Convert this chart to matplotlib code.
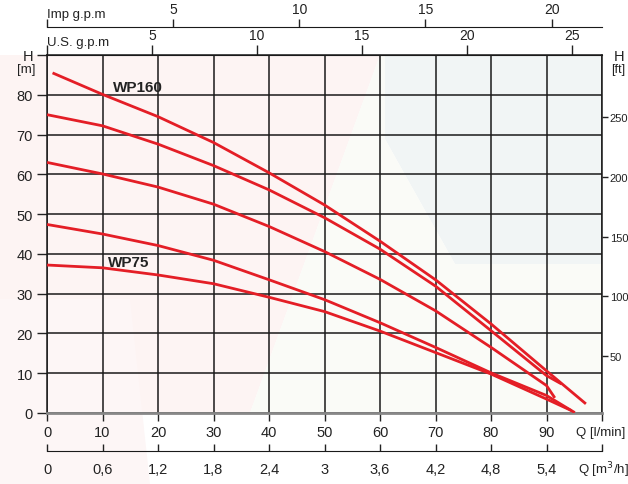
import matplotlib
matplotlib.use("Agg")
import matplotlib.pyplot as plt
from matplotlib.patches import Polygon

plt.rcParams['font.family'] = ['Liberation Sans', 'DejaVu Sans']

# ---------------- data ----------------
q_c1 = [1, 10, 20, 30, 40, 50, 60, 70, 80, 90, 97.1]
h_c1 = [85.5, 80.1, 74.5, 68.0, 60.4, 52.3, 43.2, 33.5, 22.4, 10.6, 2.3]
q_c2 = [0, 10, 20, 30, 40, 50, 60, 70, 80, 90, 92.7]
h_c2 = [75.0, 72.2, 67.6, 62.2, 56.1, 49.1, 41.2, 31.9, 20.7, 9.4, 7.3]
q_c3 = [0, 10, 20, 30, 40, 50, 60, 70, 80, 90, 91.5]
h_c3 = [63.0, 60.1, 56.8, 52.5, 46.9, 40.6, 33.6, 25.7, 16.5, 6.9, 3.8]
q_c4 = [0, 10, 20, 30, 40, 50, 60, 70, 80, 90, 95.1]
h_c4 = [47.4, 45.0, 42.1, 38.4, 33.5, 28.5, 22.7, 16.5, 10.1, 4.4, 0.1]
q_c5 = [0, 10, 20, 30, 40, 50, 60, 70, 80, 90, 94.5]
h_c5 = [37.2, 36.5, 34.7, 32.5, 29.1, 25.5, 20.6, 15.2, 9.8, 3.5, 0.6]

q_ticks = [0, 10, 20, 30, 40, 50, 60, 70, 80, 90, 100]
q_labels = ['0', '10', '20', '30', '40', '50', '60', '70', '80', '90', '']
h_ticks = [0, 10, 20, 30, 40, 50, 60, 70, 80, 90]
h_labels = ['0', '10', '20', '30', '40', '50', '60', '70', '80', '']
ft_ticks = [50, 100, 150, 200, 250]
ft_labels = ['50', '100', '150', '200', '250']
us_ticks = [0, 5, 10, 15, 20, 25]
us_labels = ['', '5', '10', '15', '20', '25']
imp_ticks = [0, 5, 10, 15, 20]
imp_labels = ['', '5', '10', '15', '20']
m3_ticks = [0, 0.6, 1.2, 1.8, 2.4, 3.0, 3.6, 4.2, 4.8, 5.4, 6.0]
m3_labels = ['0', '0,6', '1,2', '1,8', '2,4', '3', '3,6', '4,2', '4,8', '5,4', '']

label_wp160 = ('WP160', 16.4, 82.0)
label_wp75 = ('WP75', 14.8, 38.0)

# ---------------- layout ----------------
W_PX, H_PX = 628, 485
fig = plt.figure(figsize=(W_PX / 100, H_PX / 100), dpi=100)
fig.patch.set_facecolor('white')

def fx(px):
    return px / W_PX

def fy(py):
    return 1 - py / H_PX

# faint background watermark
bg = [
    ([(0, 56), (380, 56), (250, 414), (0, 414)], '#fdf4f3'),
    ([(0, 300), (130, 300), (150, 485), (0, 485)], '#fdf6f6'),
    ([(385, 56), (602, 56), (602, 265), (455, 265), (385, 140)], '#f1f5f5'),
    ([(250, 414), (380, 56), (385, 56), (385, 140), (455, 265), (602, 265),
      (602, 414)], '#fafbf7'),
]
for pts, col in bg:
    fig.patches.append(Polygon([(fx(x), fy(y)) for x, y in pts], closed=True,
                               transform=fig.transFigure, facecolor=col,
                               edgecolor='none', zorder=-10))

L, R, B, T = fx(47), fx(602), fy(414), fy(56)
ax = fig.add_axes([L, B, R - L, T - B])
ax.set_facecolor('none')
ax.set_xlim(0, 100)
ax.set_ylim(0, 90)

ax.set_xticks(q_ticks)
ax.set_xticklabels(q_labels)
ax.set_yticks(h_ticks)
ax.set_yticklabels(h_labels)
ax.grid(True, color='#1a1a1a', linewidth=1.1, zorder=1)
ax.set_axisbelow(True)
ax.tick_params(axis='x', direction='out', length=6, width=1, pad=3,
               labelsize=10.5, colors='#222222')
ax.tick_params(axis='y', direction='out', length=7, width=1, pad=3,
               labelsize=10.5, colors='#222222')
for s in ['left', 'right', 'top']:
    ax.spines[s].set_color('#1a1a1a')
    ax.spines[s].set_linewidth(1.1)
ax.spines['bottom'].set_color('#888888')
ax.spines['bottom'].set_linewidth(2)

red = '#e41e26'
for q, h in [(q_c1, h_c1), (q_c2, h_c2), (q_c3, h_c3), (q_c4, h_c4), (q_c5, h_c5)]:
    ax.plot(q, h, color=red, linewidth=2.0, zorder=3, solid_capstyle='butt',
            solid_joinstyle='round')

for txt, qx, hy in (label_wp160, label_wp75):
    ax.text(qx, hy, txt, fontsize=11, fontweight='bold', color='#222222',
            ha='center', va='center', zorder=4)

# left axis title
fig.text(fx(28), fy(57), 'H', fontsize=10.5, ha='center', va='center', color='#222222')
fig.text(fx(26), fy(70), '[m]', fontsize=9.5, ha='center', va='center', color='#222222')

# right axis in feet
ax2 = ax.twinx()
ax2.set_ylim(2.4, 301.8)
ax2.set_yticks(ft_ticks)
ax2.set_yticklabels(ft_labels)
ax2.tick_params(axis='y', direction='out', length=4, width=1, pad=1.5,
                labelsize=8, colors='#222222')
for s in ax2.spines.values():
    s.set_visible(False)
fig.text(fx(614), fy(57), 'H', fontsize=10.5, ha='left', va='center', color='#222222')
fig.text(fx(611), fy(70), '[ft]', fontsize=9, ha='left', va='center', color='#222222')

# top US g.p.m axis (on main top spine)
narrow = ['Liberation Sans Narrow', 'Liberation Sans', 'DejaVu Sans']
sec = ax.secondary_xaxis('top', functions=(lambda q: q / 3.785, lambda g: g * 3.785))
sec.set_xticks(us_ticks)
sec.set_xticklabels(us_labels)
sec.tick_params(direction='out', length=7, width=1, pad=2, labelsize=10, colors='#222222')
sec.spines['top'].set_color('#1a1a1a')
fig.text(fx(47), fy(43), 'U.S. g.p.m', fontsize=9.5, family=narrow,
         ha='left', va='center', color='#222222')

# Imp g.p.m axis
axi = fig.add_axes([L, fy(28) - 0.001, R - L, 0.001])
axi.set_facecolor('none')
axi.set_xlim(0, 100 / 4.546)
axi.set_yticks([])
axi.xaxis.set_ticks_position('top')
axi.xaxis.set_label_position('top')
axi.set_xticks(imp_ticks)
axi.set_xticklabels(imp_labels)
axi.tick_params(direction='out', length=6, width=1, pad=2, labelsize=10, colors='#222222')
for s in ['left', 'right', 'bottom']:
    axi.spines[s].set_visible(False)
axi.spines['top'].set_color('#1a1a1a')
fig.text(fx(47), fy(15), 'Imp g.p.m', fontsize=9.5, family=narrow,
         ha='left', va='center', color='#222222')

# bottom m3/h axis
axm = fig.add_axes([L, fy(452), R - L, 0.001])
axm.set_facecolor('none')
axm.set_xlim(0, 6)
axm.set_yticks([])
axm.set_xticks(m3_ticks)
axm.set_xticklabels(m3_labels)
axm.tick_params(direction='in', length=5, width=1, pad=8, labelsize=10.5, colors='#222222')
for s in ['left', 'right', 'top']:
    axm.spines[s].set_visible(False)
axm.spines['bottom'].set_color('#1a1a1a')

fig.text(fx(601), fy(433), 'Q [l/min]', fontsize=9.5, family=narrow,
         ha='center', va='center', color='#222222')
fig.text(fx(603), fy(470), 'Q [m$^3$/h]', fontsize=9.5, family=narrow,
         ha='center', va='center', color='#222222')

fig.savefig('out.png', dpi=100)
